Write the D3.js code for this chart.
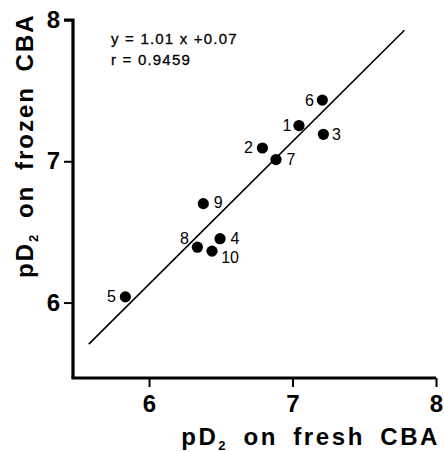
<!DOCTYPE html>
<html>
<head>
<meta charset="utf-8">
<script src="https://cdn.jsdelivr.net/npm/d3@7.9.0/dist/d3.min.js"></script>
<style>
  body { margin: 0; background: #fff; }
  svg { display: block; font-family: "Liberation Sans", Arial, Helvetica, sans-serif; }
</style>
</head>
<body>
<svg id="chart" width="444" height="452"></svg>
<script>
// --- data
const ids    = ['1', '2', '3', '4', '5', '6', '7', '8', '9', '10'];
const fresh  = [7.045, 6.79, 7.215, 6.495, 5.835, 7.208, 6.885, 6.337, 6.378, 6.439];
const frozen = [7.253, 7.094, 7.191, 6.452, 6.04, 7.433, 7.012, 6.392, 6.70, 6.364];
const ticks  = [6, 7, 8];
const fit    = { slope: 1.01, intercept: 0.07, from: 5.58, to: 7.78 };
const eqLines = ['y = 1.01 x +0.07', 'r = 0.9459'];

// label placement around each dot (dx, dy in px)
const labelOffset = {
  '1': [-12, 0], '2': [-14, 0], '3': [13, 0], '4': [15, 0], '5': [-14, 0],
  '6': [-13, 0], '7': [15, 0], '8': [-13, -9], '9': [15, -1], '10': [18, 6]
};

const svg = d3.select('#chart');
const x = d3.scaleLinear().domain([5.47, 8]).range([73, 436]);
const y = d3.scaleLinear().domain([5.466, 8]).range([378, 20]);

// axes
const xAxis = svg.append('g').attr('transform', 'translate(0,378)')
  .call(d3.axisBottom(x).tickValues(ticks).tickSize(9).tickPadding(8).tickFormat(d3.format('d')));
const yAxis = svg.append('g').attr('transform', 'translate(73,0)')
  .call(d3.axisLeft(y).tickValues(ticks).tickSize(9).tickPadding(4).tickFormat(d3.format('d')));

[xAxis, yAxis].forEach(g => {
  g.select('.domain').attr('stroke', '#000').attr('stroke-width', 3.2);
  g.selectAll('.tick line').attr('stroke', '#000').attr('stroke-width', 2);
  g.selectAll('.tick text').attr('fill', '#000')
    .attr('font-size', 24).attr('font-weight', 'bold');
});
// clean square axis ends
xAxis.select('.domain').attr('d', `M${x.range()[0] - 1.6},0H${x.range()[1]}`);
yAxis.select('.domain').attr('d', `M0,${y.range()[0]}V${y.range()[1]}H-9`);

// regression line
svg.append('line')
  .attr('x1', x(fit.from)).attr('y1', y(fit.slope * fit.from + fit.intercept))
  .attr('x2', x(fit.to)).attr('y2', y(fit.slope * fit.to + fit.intercept))
  .attr('stroke', '#000').attr('stroke-width', 1.6);

// points
const pts = ids.map((id, i) => ({ id, fx: fresh[i], fz: frozen[i] }));
svg.append('g').selectAll('circle')
  .data(pts).join('circle')
  .attr('cx', d => x(d.fx)).attr('cy', d => y(d.fz)).attr('r', 5.6)
  .attr('fill', '#000');

svg.append('g').selectAll('text')
  .data(pts).join('text')
  .attr('x', d => x(d.fx) + labelOffset[d.id][0])
  .attr('y', d => y(d.fz) + labelOffset[d.id][1])
  .attr('text-anchor', 'middle').attr('dominant-baseline', 'central')
  .attr('font-size', 16).attr('fill', '#000')
  .text(d => d.id);

// equation
svg.append('g').selectAll('text')
  .data(eqLines).join('text')
  .attr('x', 111).attr('y', (d, i) => 44 + i * 21)
  .attr('font-size', 15).attr('fill', '#000').attr('letter-spacing', 1.2)
  .attr('stroke', '#000').attr('stroke-width', 0.3)
  .text(d => d);

// axis titles
const xt = svg.append('text')
  .attr('x', 440).attr('y', 445).attr('text-anchor', 'end')
  .attr('font-size', 24).attr('font-weight', 'bold').attr('fill', '#000')
  .attr('letter-spacing', 2.6).style('word-spacing', '6px');
xt.append('tspan').text('pD');
xt.append('tspan').attr('font-size', 13).attr('dy', 5).text('2');
xt.append('tspan').attr('dy', -5).text(' on fresh CBA');

const yt = svg.append('text')
  .attr('transform', 'translate(33,278) rotate(-90)')
  .attr('font-size', 24).attr('font-weight', 'bold').attr('fill', '#000')
  .attr('letter-spacing', 2).style('word-spacing', '6px');
yt.append('tspan').text('pD');
yt.append('tspan').attr('font-size', 13).attr('dy', 5).text('2');
yt.append('tspan').attr('dy', -5).text(' on frozen CBA');
</script>
</body>
</html>
